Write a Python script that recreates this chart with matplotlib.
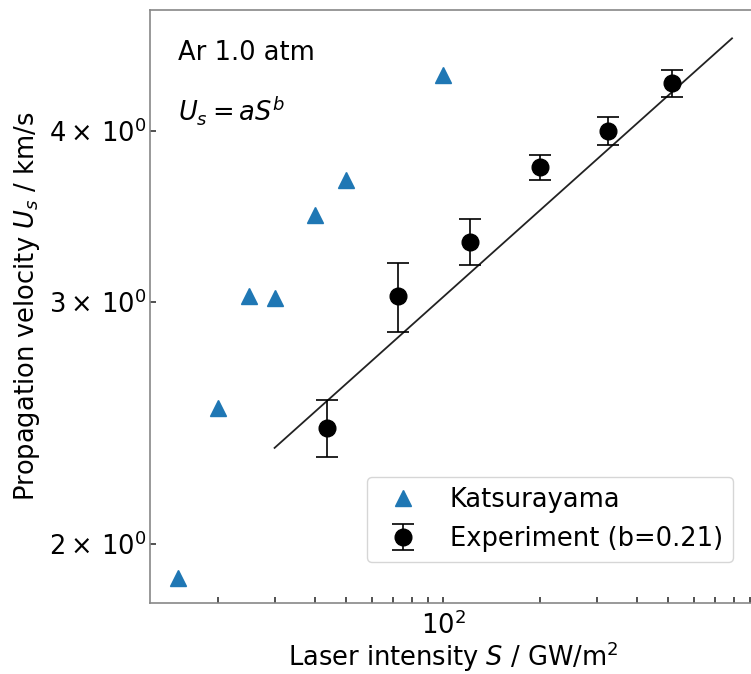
import matplotlib
matplotlib.use("Agg")
import matplotlib.pyplot as plt
from matplotlib.ticker import FuncFormatter
import numpy as np

# Katsurayama reference data
kat_S = [15, 20, 25, 30, 40, 50, 100]
kat_U = [1.89, 2.51, 3.03, 3.02, 3.47, 3.68, 4.39]

# experiment
exp_S = [43.7, 72.7, 121, 200, 325, 514]
exp_U = [2.43, 3.03, 3.32, 3.76, 4.00, 4.33]
exp_err = [0.115, 0.175, 0.13, 0.08, 0.095, 0.10]

# power-law fit U = a S^b
fit_a = 1.15
fit_b = 0.21
fit_range = [30, 790]

FS = 18.5
plt.rcParams.update({"font.family": "DejaVu Sans", "font.size": FS,
                     "mathtext.fontset": "dejavusans"})

fig = plt.figure(figsize=(7.51, 6.74), dpi=100)
ax = fig.add_axes([150 / 751, 71 / 674, 606 / 751, 593 / 674])

S_fit = np.logspace(np.log10(fit_range[0]), np.log10(fit_range[1]), 50)
ax.plot(S_fit, fit_a * S_fit ** fit_b, color="#222222", lw=1.3, zorder=2)
ax.plot(kat_S, kat_U, "^", color="#1f77b4", ms=12, ls="none", label="Katsurayama", zorder=3)
ax.errorbar(exp_S, exp_U, yerr=exp_err, fmt="o", color="black", ms=12, elinewidth=1.2,
            capsize=8, capthick=1.2, label="Experiment (b=0.21)", zorder=3)

ax.set_xscale("log"); ax.set_yscale("log")
ax.set_xlim(12.31, 937.8)
ax.set_ylim(1.811, 4.896)

def ylab(v, pos):
    return r"$\mathdefault{%d\times\,10^{0}}$" % int(round(v))
ax.yaxis.set_minor_formatter(FuncFormatter(ylab))

ax.tick_params(which="both", direction="in", length=4.3, width=1.1, color="#222222",
               labelsize=FS)
ax.tick_params(axis="x", which="both", pad=6)
ax.tick_params(axis="y", which="both", pad=2.5)
for sp in ax.spines.values():
    sp.set_color("#888888"); sp.set_linewidth(1.2)

ax.set_xlabel("Laser intensity $S$ / GW/m$^2$", fontsize=FS, labelpad=0)
ax.set_ylabel("Propagation velocity $U_s$ / km/s", fontsize=FS, labelpad=5)

ax.text(0.046, 0.9275, "Ar 1.0 atm", transform=ax.transAxes, ha="left", va="center", fontsize=FS)
ax.text(0.046, 0.831, "$U_s = aS^b$", transform=ax.transAxes, ha="left", va="center", fontsize=FS)

ax.legend(loc="lower right", bbox_to_anchor=(0.962, 0.069), borderaxespad=0, fontsize=FS)

fig.savefig("out.png", dpi=100)
